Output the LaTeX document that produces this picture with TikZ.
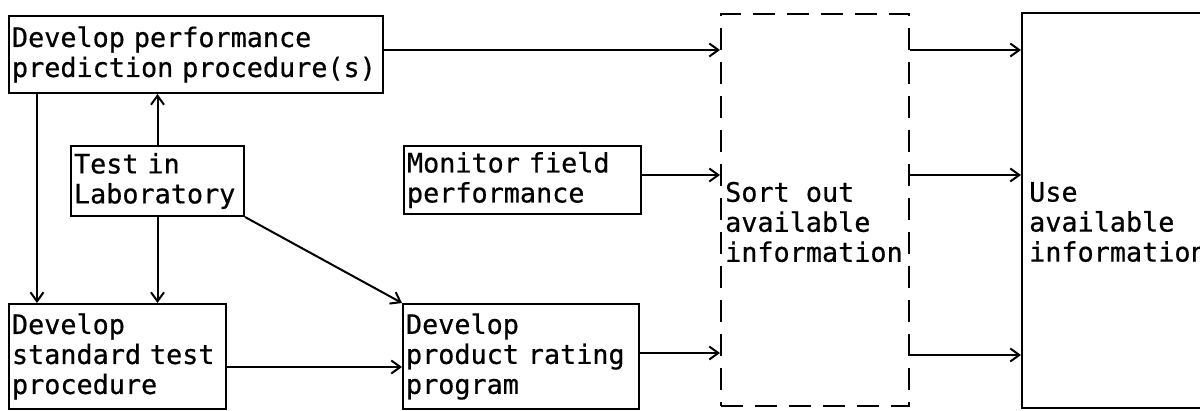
\documentclass[tikz,border=0pt]{standalone}
\usepackage{fontspec}
\newfontfamily\tw[WordSpace={1,0,0},FakeBold=0.6]{DejaVu Sans Mono}
\usetikzlibrary{arrows.meta}
\begin{document}
\begin{tikzpicture}[x=1pt,y=-1pt,
  txt/.style={font=\tw\fontsize{26.8}{30}\selectfont, align=left},
  box/.style={txt, draw, line width=2pt, anchor=north west, inner xsep=3pt, inner ysep=0pt},
  dbox/.style={draw, line width=2pt, dash pattern=on 22pt off 12pt, anchor=north west, inner sep=0pt},
  conn/.style={line width=2pt, -{Straight Barb[length=9pt,width=13pt,line width=2pt]}}]
\clip (0,0) rectangle (1200,410);
\useasboundingbox (0,0) rectangle (1200,410);

\node[box, text width=368pt, minimum height=77pt] (pred) at (8,15) {Develop performance\\prediction procedure(s)};
\node[box, text width=167pt, minimum height=70pt] (lab) at (70,145) {Test in\\Laboratory};
\node[box, text width=211pt, minimum height=105pt] (std) at (8,303) {Develop\\standard test\\procedure};
\node[box, text width=231pt, minimum height=68pt] (mon) at (403,145) {Monitor field\\performance};
\node[box, text width=230pt, minimum height=105pt] (prod) at (402,303) {Develop\\product rating\\program};
\node[dbox, minimum width=188pt, minimum height=392pt] (sort) at (720,13) {};
\node[txt, anchor=west, inner xsep=5pt] (sorttext) at (720,222) {Sort out\\available\\information};
\node[draw, line width=2pt, anchor=north west, inner sep=0pt, minimum width=215pt, minimum height=395pt] (use) at (1021,12) {};
\node[txt, anchor=west, inner xsep=8pt] (usetext) at (1021,222) {Use\\available\\information};

\draw[conn] (pred.east |- 0,50) -- (sort.west |- 0,50);
\draw[conn] (mon.east |- 0,175) -- (sort.west |- 0,175);
\draw[conn] (prod.east |- 0,353) -- (sort.west |- 0,353);
\draw[conn] (sort.east |- 0,50) -- (use.west |- 0,50);
\draw[conn] (sort.east |- 0,175) -- (use.west |- 0,175);
\draw[conn] (sort.east |- 0,355) -- (use.west |- 0,355);
\draw[conn] (std.east |- 0,367) -- (prod.west |- 0,367);
\draw[conn] (lab.north) -- (lab.north |- pred.south);
\draw[conn] (lab.south) -- (lab.south |- std.north);
\draw[conn] ([xshift=29pt]pred.south west) -- ([xshift=29pt]std.north west);
\draw[conn] (lab.south east) -- (prod.north west);
\end{tikzpicture}
\end{document}
